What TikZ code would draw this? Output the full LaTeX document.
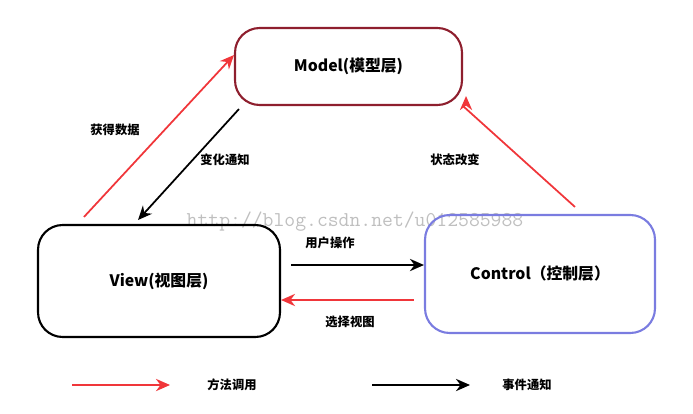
\documentclass[tikz,border=0pt]{standalone}
\usepackage{fontspec}
\setmainfont{Noto Sans CJK SC}
\usetikzlibrary{positioning,arrows.meta}
\definecolor{modelred}{HTML}{8E1F2E}
\definecolor{ctrlblue}{HTML}{7A7CE0}
\definecolor{arrred}{HTML}{F0363A}
\begin{document}
\begin{tikzpicture}[x=0.02cm,y=-0.02cm,
	box/.style={draw, line width=1.2pt, rounded corners=14pt, font=\bfseries\small},
	redarr/.style={draw=arrred, line width=1pt, -{Stealth[length=8pt,width=7pt]}},
	blkarr/.style={draw=black, line width=1pt, -{Stealth[length=8pt,width=7pt]}},
	lbl/.style={font=\bfseries\scriptsize}]
	\useasboundingbox (0,0) rectangle (693,413);
	% watermark
	\node (mark) [text=black!25, font=\ttfamily\large] at (355,222) {http://blog.csdn.net/u012585988};
	% Draw the three blocks
	\node (model) [box, draw=modelred, minimum width=4.54cm, minimum height=1.54cm] at (348.5,66.5) {Model(模型层)};
	\node (view) [box, minimum width=4.84cm, minimum height=2.24cm] at (159,281) {View(视图层)};
	\node (control) [box, draw=ctrlblue, minimum width=4.6cm, minimum height=2.36cm] at (540,274) {Control（控制层）};
	% Connect the blocks with arrows
	\draw[redarr] (view.north west) ++(47,-7) coordinate (v1) -- (model.west |- 0,55) coordinate (m1);
	\draw[blkarr] (model.south west) ++(5,3) coordinate (m2) -- (138,220) coordinate (v2);
	\draw[redarr] (control.north) ++(35,-7) coordinate (c1) -- (model.south east) ++(3,-10) coordinate (m3);
	\draw[blkarr] (view.east |- 0,265) ++(10,0) coordinate (v3) -- (control.west |- 0,265);
	\draw[redarr] (control.west |- 0,300) ++(-10,0) coordinate (c2) -- (view.east |- 0,300);
	% labels
	\node (getdata) [lbl] at (115,130) {获得数据};
	\node (notify) [lbl] at (225,160) {变化通知};
	\node (state) [lbl] at (455,160) {状态改变};
	\node (userop) [lbl] at (330,243) {用户操作};
	\node (select) [lbl] at (350,322) {选择视图};
	% legend
	\coordinate (la) at (72,385);
	\coordinate (lb) at (170,385);
	\coordinate (lc) at (372,385);
	\coordinate (ld) at (470,385);
	\draw[redarr] (la) -- (lb);
	\node (method) [lbl] at (232,385) {方法调用};
	\draw[blkarr] (lc) -- (ld);
	\node (event) [lbl] at (527,385) {事件通知};
\end{tikzpicture}
\end{document}
